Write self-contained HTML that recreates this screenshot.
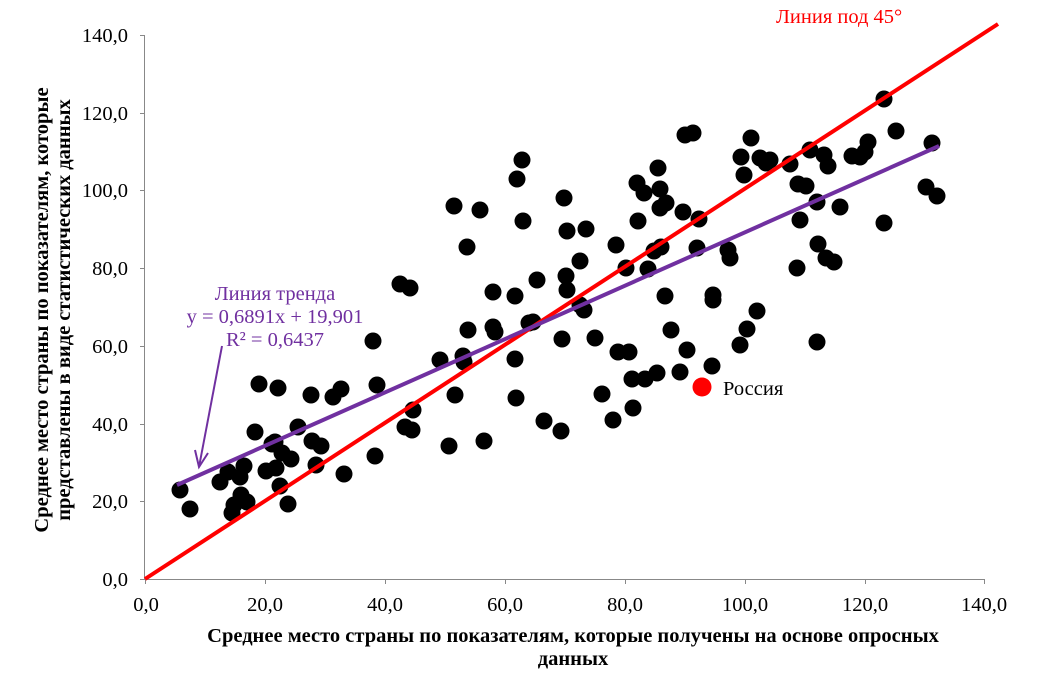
<!DOCTYPE html>
<html><head><meta charset="utf-8"><style>
body{margin:0;background:#fff;}
svg{display:block;font-family:"Liberation Serif",serif;}
</style></head><body>
<svg width="1044" height="694" viewBox="0 0 1044 694">
<g stroke="#888" stroke-width="1">
<line x1="144.5" y1="35" x2="144.5" y2="579"/>
<line x1="144" y1="579.5" x2="985" y2="579.5"/>
<line x1="140" y1="35.5" x2="144" y2="35.5"/><line x1="140" y1="113.5" x2="144" y2="113.5"/><line x1="140" y1="190.5" x2="144" y2="190.5"/><line x1="140" y1="268.5" x2="144" y2="268.5"/><line x1="140" y1="346.5" x2="144" y2="346.5"/><line x1="140" y1="424.5" x2="144" y2="424.5"/><line x1="140" y1="501.5" x2="144" y2="501.5"/><line x1="140" y1="579.5" x2="144" y2="579.5"/>
<line x1="145.5" y1="579" x2="145.5" y2="584"/><line x1="265.5" y1="579" x2="265.5" y2="584"/><line x1="385.5" y1="579" x2="385.5" y2="584"/><line x1="505.5" y1="579" x2="505.5" y2="584"/><line x1="625.5" y1="579" x2="625.5" y2="584"/><line x1="745.5" y1="579" x2="745.5" y2="584"/><line x1="865.5" y1="579" x2="865.5" y2="584"/><line x1="984.5" y1="579" x2="984.5" y2="584"/>
</g>
<g font-size="20.5" fill="#000" text-anchor="end">
<text x="128" y="42">140,0</text><text x="128" y="120">120,0</text><text x="128" y="197">100,0</text><text x="128" y="275">80,0</text><text x="128" y="353">60,0</text><text x="128" y="431">40,0</text><text x="128" y="508">20,0</text><text x="128" y="586">0,0</text>
</g>
<g font-size="20.5" fill="#000" text-anchor="middle">
<text x="146" y="611">0,0</text><text x="265" y="611">20,0</text><text x="385" y="611">40,0</text><text x="505" y="611">60,0</text><text x="625" y="611">80,0</text><text x="745" y="611">100,0</text><text x="865" y="611">120,0</text><text x="984" y="611">140,0</text>
</g>
<g font-size="20.5" font-weight="bold" text-anchor="middle">
<text x="573" y="642">Среднее место страны по показателям, которые получены на основе опросных</text>
<text x="573" y="665">данных</text>
<text transform="translate(48,310) rotate(-90)">Среднее место страны по показателям, которые</text>
<text transform="translate(70,310) rotate(-90)">представлены в виде статистических данных</text>
</g>
<g fill="#000">
<circle cx="180" cy="490" r="8.5"/><circle cx="190" cy="509" r="8.5"/><circle cx="220" cy="482" r="8.5"/><circle cx="228" cy="472" r="8.5"/><circle cx="232" cy="513" r="8.5"/><circle cx="234" cy="505" r="8.5"/><circle cx="240" cy="477" r="8.5"/><circle cx="241" cy="495" r="8.5"/><circle cx="244" cy="466" r="8.5"/><circle cx="247" cy="502" r="8.5"/><circle cx="255" cy="432" r="8.5"/><circle cx="259" cy="384" r="8.5"/><circle cx="266" cy="471" r="8.5"/><circle cx="272" cy="444" r="8.5"/><circle cx="275" cy="442" r="8.5"/><circle cx="278" cy="388" r="8.5"/><circle cx="276" cy="468" r="8.5"/><circle cx="280" cy="486" r="8.5"/><circle cx="282" cy="453" r="8.5"/><circle cx="288" cy="504" r="8.5"/><circle cx="291" cy="459" r="8.5"/><circle cx="298" cy="427" r="8.5"/><circle cx="311" cy="395" r="8.5"/><circle cx="312" cy="441" r="8.5"/><circle cx="316" cy="465" r="8.5"/><circle cx="321" cy="446" r="8.5"/><circle cx="333" cy="397" r="8.5"/><circle cx="341" cy="389" r="8.5"/><circle cx="344" cy="474" r="8.5"/><circle cx="373" cy="341" r="8.5"/><circle cx="375" cy="456" r="8.5"/><circle cx="377" cy="385" r="8.5"/><circle cx="400" cy="284" r="8.5"/><circle cx="405" cy="427" r="8.5"/><circle cx="410" cy="288" r="8.5"/><circle cx="412" cy="430" r="8.5"/><circle cx="413" cy="410" r="8.5"/><circle cx="440" cy="360" r="8.5"/><circle cx="449" cy="446" r="8.5"/><circle cx="454" cy="206" r="8.5"/><circle cx="455" cy="395" r="8.5"/><circle cx="463" cy="356" r="8.5"/><circle cx="464" cy="362" r="8.5"/><circle cx="467" cy="247" r="8.5"/><circle cx="468" cy="330" r="8.5"/><circle cx="480" cy="210" r="8.5"/><circle cx="484" cy="441" r="8.5"/><circle cx="493" cy="292" r="8.5"/><circle cx="493" cy="327" r="8.5"/><circle cx="495" cy="332" r="8.5"/><circle cx="515" cy="296" r="8.5"/><circle cx="515" cy="359" r="8.5"/><circle cx="516" cy="398" r="8.5"/><circle cx="517" cy="179" r="8.5"/><circle cx="522" cy="160" r="8.5"/><circle cx="523" cy="221" r="8.5"/><circle cx="529" cy="323" r="8.5"/><circle cx="533" cy="322" r="8.5"/><circle cx="537" cy="280" r="8.5"/><circle cx="544" cy="421" r="8.5"/><circle cx="561" cy="431" r="8.5"/><circle cx="562" cy="339" r="8.5"/><circle cx="564" cy="198" r="8.5"/><circle cx="566" cy="276" r="8.5"/><circle cx="567" cy="231" r="8.5"/><circle cx="567" cy="290" r="8.5"/><circle cx="580" cy="261" r="8.5"/><circle cx="580" cy="305" r="8.5"/><circle cx="584" cy="310" r="8.5"/><circle cx="586" cy="229" r="8.5"/><circle cx="595" cy="338" r="8.5"/><circle cx="602" cy="394" r="8.5"/><circle cx="613" cy="420" r="8.5"/><circle cx="616" cy="245" r="8.5"/><circle cx="618" cy="352" r="8.5"/><circle cx="626" cy="268" r="8.5"/><circle cx="629" cy="352" r="8.5"/><circle cx="632" cy="379" r="8.5"/><circle cx="633" cy="408" r="8.5"/><circle cx="637" cy="183" r="8.5"/><circle cx="638" cy="221" r="8.5"/><circle cx="644" cy="193" r="8.5"/><circle cx="645" cy="379" r="8.5"/><circle cx="648" cy="269" r="8.5"/><circle cx="654" cy="251" r="8.5"/><circle cx="657" cy="373" r="8.5"/><circle cx="658" cy="168" r="8.5"/><circle cx="660" cy="189" r="8.5"/><circle cx="660" cy="208" r="8.5"/><circle cx="661" cy="247" r="8.5"/><circle cx="665" cy="296" r="8.5"/><circle cx="666" cy="203" r="8.5"/><circle cx="671" cy="330" r="8.5"/><circle cx="680" cy="372" r="8.5"/><circle cx="683" cy="212" r="8.5"/><circle cx="685" cy="135" r="8.5"/><circle cx="687" cy="350" r="8.5"/><circle cx="693" cy="133" r="8.5"/><circle cx="697" cy="248" r="8.5"/><circle cx="699" cy="219" r="8.5"/><circle cx="712" cy="366" r="8.5"/><circle cx="713" cy="295" r="8.5"/><circle cx="713" cy="300" r="8.5"/><circle cx="728" cy="250" r="8.5"/><circle cx="730" cy="258" r="8.5"/><circle cx="740" cy="345" r="8.5"/><circle cx="741" cy="157" r="8.5"/><circle cx="744" cy="175" r="8.5"/><circle cx="747" cy="329" r="8.5"/><circle cx="751" cy="138" r="8.5"/><circle cx="757" cy="311" r="8.5"/><circle cx="760" cy="158" r="8.5"/><circle cx="766" cy="163" r="8.5"/><circle cx="770" cy="160" r="8.5"/><circle cx="790" cy="164" r="8.5"/><circle cx="797" cy="268" r="8.5"/><circle cx="798" cy="184" r="8.5"/><circle cx="800" cy="220" r="8.5"/><circle cx="806" cy="186" r="8.5"/><circle cx="810" cy="150" r="8.5"/><circle cx="817" cy="202" r="8.5"/><circle cx="818" cy="244" r="8.5"/><circle cx="817" cy="342" r="8.5"/><circle cx="824" cy="155" r="8.5"/><circle cx="828" cy="166" r="8.5"/><circle cx="826" cy="258" r="8.5"/><circle cx="834" cy="262" r="8.5"/><circle cx="840" cy="207" r="8.5"/><circle cx="852" cy="156" r="8.5"/><circle cx="860" cy="157" r="8.5"/><circle cx="865" cy="152" r="8.5"/><circle cx="868" cy="142" r="8.5"/><circle cx="884" cy="99" r="8.5"/><circle cx="884" cy="223" r="8.5"/><circle cx="896" cy="131" r="8.5"/><circle cx="926" cy="187" r="8.5"/><circle cx="932" cy="143" r="8.5"/><circle cx="937" cy="196" r="8.5"/>
</g>
<line x1="145" y1="579" x2="998" y2="24" stroke="#f00" stroke-width="4"/>
<line x1="177" y1="485" x2="939" y2="146" stroke="#7030a0" stroke-width="4"/>
<circle cx="702" cy="387" r="9.5" fill="#f00"/>
<text x="723" y="395" font-size="20.5">Россия</text>
<text x="776" y="23" font-size="20.5" fill="#f00">Линия под 45°</text>
<g font-size="20.5" fill="#7030a0" text-anchor="middle">
<text x="275" y="300">Линия тренда</text>
<text x="275" y="323">y = 0,6891x + 19,901</text>
<text x="275" y="346">R² = 0,6437</text>
</g>
<g stroke="#7030a0" stroke-width="2" fill="none">
<line x1="222" y1="346" x2="199" y2="467"/>
<polyline points="195,450 199,467 208,453"/>
</g>
</svg>
</body></html>
